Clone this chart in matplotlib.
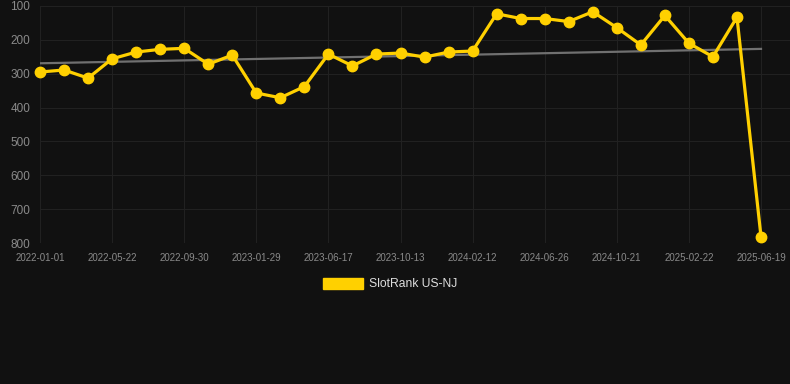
import numpy as np
import matplotlib
matplotlib.use("Agg")
import matplotlib.pyplot as plt
from matplotlib.patches import Patch

# Rank values (lower = better)
ranks = [295, 289, 313, 256, 236, 228, 225, 272, 245, 357,
         371, 338, 242, 277, 242, 239, 251, 236, 233, 123,
         137, 137, 146, 117, 164, 215, 128, 210, 250, 133, 781]
tick_labels = ['2022-01-01', '2022-05-22', '2022-09-30', '2023-01-29',
               '2023-06-17', '2023-10-13', '2024-02-12', '2024-06-26',
               '2024-10-21', '2025-02-22', '2025-06-19']
y_ticks = [100, 200, 300, 400, 500, 600, 700, 800]

BG = '#111111'
YELLOW = '#FFD000'
W, H = 790, 384

fig = plt.figure(figsize=(W / 100, H / 100), dpi=100, facecolor=BG)
ax = fig.add_axes([40 / W, 1 - 243 / H, 750 / W, 237 / H], facecolor=BG)

x = np.arange(len(ranks))

# Linear trend over all points
coef = np.polyfit(x, ranks, 1)
ax.plot(x, np.polyval(coef, x), color='#707070', lw=1.6, zorder=2)

ax.plot(x, ranks, color=YELLOW, lw=2.3, marker='o', markersize=7.5,
        markerfacecolor=YELLOW, markeredgecolor=YELLOW, zorder=3, clip_on=False)

ax.set_xlim(0, (790 - 40) / ((761 - 40) / 30))
ax.set_ylim(800, 100)
ax.set_yticks(y_ticks)
ax.set_xticks(x[::3])
ax.set_xticklabels(tick_labels)

for s in ax.spines.values():
    s.set_visible(False)
ax.grid(True, color='#212121', lw=0.8)
ax.tick_params(axis='both', length=0, colors='#8a8a8a', labelfontfamily='Liberation Sans')
ax.tick_params(axis='y', labelsize=8.5, pad=7)
ax.tick_params(axis='x', labelsize=7, pad=7)

handle = Patch(facecolor=YELLOW, edgecolor=YELLOW)
fig.legend([handle], ['SlotRank US-NJ'], loc='center',
           bbox_to_anchor=(390 / W, 1 - 284 / H), frameon=False,
           handlelength=3.3, handleheight=1.0, handletextpad=0.5,
           prop={'family': 'Liberation Sans', 'size': 8.7}, labelcolor='#dddddd')

fig.savefig('out.png', dpi=100, facecolor=BG)
